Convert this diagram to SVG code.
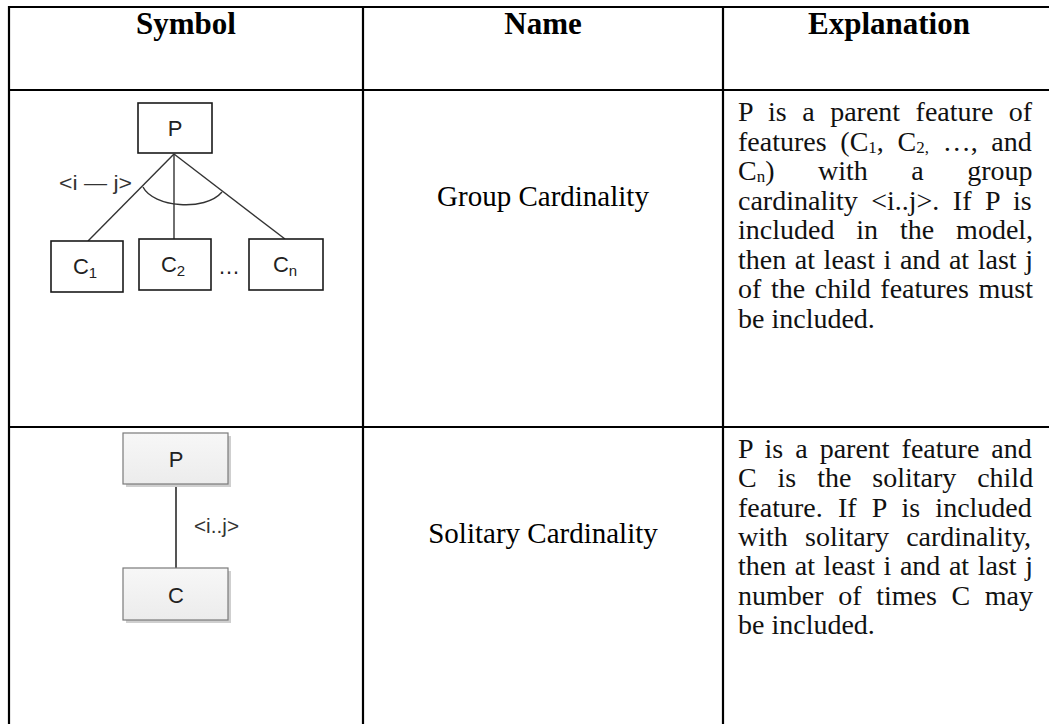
<svg xmlns="http://www.w3.org/2000/svg" width="1049" height="724" viewBox="0 0 1049 724">
  <defs>
    <style>
      .grid { stroke: #000; stroke-width: 2.2; fill: none; }
      .head { font-family: "Liberation Serif", "Times New Roman", serif; font-weight: bold; font-size: 31px; fill: #000; text-anchor: middle; }
      .name { font-family: "Liberation Serif", "Times New Roman", serif; font-size: 29px; fill: #000; text-anchor: middle; }
      .body { font-family: "Liberation Serif", "Times New Roman", serif; font-size: 28px; fill: #111; }
      .box { fill: #fff; stroke: #1a1a1a; stroke-width: 1.6; }
      .sbox { fill: url(#boxFill); stroke: #7a7a7a; stroke-width: 1.2; }
      .shadow { fill: #cfcfcf; }
      .edge { stroke: #333; stroke-width: 1.4; fill: none; }
      .sedge { stroke: #555; stroke-width: 2; fill: none; }
      .lbl { font-family: "Liberation Sans", Arial, sans-serif; font-size: 22px; fill: #222; text-anchor: middle; }
      .elbl { font-family: "Liberation Sans", Arial, sans-serif; font-size: 21px; fill: #333; }
    </style>
    <linearGradient id="boxFill" x1="0" y1="0" x2="0" y2="1">
      <stop offset="0" stop-color="#f7f7f7"/>
      <stop offset="1" stop-color="#ececec"/>
    </linearGradient>
  </defs>

  <rect width="1049" height="724" fill="#fff"/>

  <!-- table rules -->
  <g id="table">
    <line class="grid" x1="9" y1="7" x2="1049" y2="7"/>
    <line class="grid" x1="9" y1="6" x2="9" y2="724"/>
    <line class="grid" x1="363" y1="7" x2="363" y2="724"/>
    <line class="grid" x1="723" y1="7" x2="723" y2="724"/>
    <line class="grid" x1="9" y1="90" x2="1049" y2="90"/>
    <line class="grid" x1="9" y1="427" x2="1049" y2="427"/>
  </g>

  <!-- column headings -->
  <g id="header">
    <text class="head" x="186" y="34">Symbol</text>
    <text class="head" x="543" y="34">Name</text>
    <text class="head" x="889" y="34">Explanation</text>
  </g>

  <!-- row 1: group cardinality symbol -->
  <g id="group-connectors">
    <line class="edge" x1="174" y1="154" x2="88" y2="241"/>
    <line class="edge" x1="174" y1="154" x2="174" y2="239"/>
    <line class="edge" x1="174" y1="154" x2="285" y2="239"/>
    <path class="edge" d="M143,187 C153,207 205,212 222,192"/>
  </g>
  <g id="group-P">
    <rect class="box" x="138" y="103" width="74" height="50"/>
    <text class="lbl" x="175" y="136">P</text>
  </g>
  <g id="group-C1">
    <rect class="box" x="51" y="241" width="72" height="51"/>
    <text class="lbl" x="85" y="274">C<tspan font-size="15" dy="4">1</tspan></text>
  </g>
  <g id="group-C2">
    <rect class="box" x="139" y="239" width="72" height="51"/>
    <text class="lbl" x="173" y="272">C<tspan font-size="15" dy="4">2</tspan></text>
  </g>
  <g id="group-Cn">
    <rect class="box" x="249" y="239" width="74" height="51"/>
    <text class="lbl" x="285" y="272">C<tspan font-size="15" dy="4">n</tspan></text>
  </g>
  <text class="lbl" x="229" y="274" font-size="17">…</text>
  <text class="elbl" x="59" y="190" textLength="73" lengthAdjust="spacingAndGlyphs">&lt;i — j&gt;</text>

  <!-- row 1 text -->
  <text class="name" x="543" y="206">Group Cardinality</text>
  <g id="group-explanation" class="body">
    <text x="738" y="121" word-spacing="8.5">P is a parent feature of</text>
    <text x="738" y="150.5" word-spacing="6.7">features (C<tspan font-size="17" dy="2">1</tspan><tspan dy="-2">,</tspan> C<tspan font-size="17" dy="2">2,</tspan><tspan dy="-2"> …, and</tspan></text>
    <text x="738" y="180" word-spacing="36.5">C<tspan font-size="17" dy="2">n</tspan><tspan dy="-2">) with a group</tspan></text>
    <text x="738" y="209.5" word-spacing="6.5">cardinality &lt;i..j&gt;. If P is</text>
    <text x="738" y="239" word-spacing="14.9">included in the model,</text>
    <text x="738" y="268.5" word-spacing="1.6">then at least i and at last j</text>
    <text x="738" y="298" word-spacing="2.6">of the child features must</text>
    <text x="738" y="327.5">be included.</text>
  </g>

  <!-- row 2: solitary cardinality symbol -->
  <g id="solitary-connectors">
    <line class="sedge" x1="176" y1="484" x2="176" y2="568"/>
    <text class="elbl" x="194" y="533" font-size="20" textLength="45" lengthAdjust="spacingAndGlyphs">&lt;i..j&gt;</text>
  </g>
  <g id="solitary-P">
    <rect class="shadow" x="126" y="436" width="105" height="51"/>
    <rect class="sbox" x="123" y="433" width="105" height="51"/>
    <text class="lbl" x="176" y="467" font-size="24">P</text>
  </g>
  <g id="solitary-C">
    <rect class="shadow" x="126" y="571" width="105" height="52"/>
    <rect class="sbox" x="123" y="568" width="105" height="52"/>
    <text class="lbl" x="176" y="603" font-size="24">C</text>
  </g>

  <!-- row 2 text -->
  <text class="name" x="543" y="543">Solitary Cardinality</text>
  <g id="solitary-explanation" class="body">
    <text x="738" y="458" word-spacing="5.0">P is a parent feature and</text>
    <text x="738" y="487.3" word-spacing="13.9">C is the solitary child</text>
    <text x="738" y="516.6" word-spacing="8.2">feature. If P is included</text>
    <text x="738" y="545.9" word-spacing="10.2">with solitary cardinality,</text>
    <text x="738" y="575.2" word-spacing="1.6">then at least i and at last j</text>
    <text x="738" y="604.5" word-spacing="7.65">number of times C may</text>
    <text x="738" y="633.8">be included.</text>
  </g>
</svg>
